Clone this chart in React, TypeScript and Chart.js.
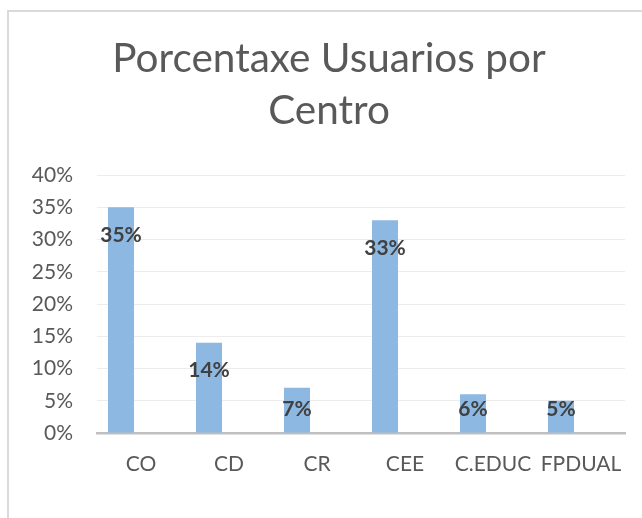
import React, { useEffect, useRef } from "react";
import { Chart, registerables } from "chart.js";

Chart.register(...registerables);

const categories = ["CO", "CD", "CR", "CEE", "C.EDUC", "FPDUAL"];
const usuarios = [0.35, 0.14, 0.07, 0.33, 0.06, 0.05];
const emptySeries = [null, null, null, null, null, null];
const titleLines = ["Porcentaxe Usuarios por", "Centro"];
const yMax = 0.4;
const yStep = 0.05;

const FONT = "Lato, 'Open Sans', sans-serif";

const frameAndTitle = {
  id: "frameAndTitle",
  beforeDraw(chart: any) {
    const ctx = chart.ctx;
    ctx.save();
    ctx.fillStyle = "#ffffff";
    ctx.fillRect(0, 0, chart.width, chart.height);
    ctx.fillStyle = "#dadada";
    ctx.fillRect(7, 10, 2, chart.height);
    ctx.fillRect(7, 10, chart.width, 2);
    ctx.restore();
  },
  afterDraw(chart: any) {
    const ctx = chart.ctx;
    ctx.save();
    ctx.fillStyle = "#595959";
    ctx.font = "400 40.5px " + FONT;
    ctx.textAlign = "center";
    ctx.textBaseline = "alphabetic";
    ctx.fillText(titleLines[0], 329, 72);
    ctx.fillText(titleLines[1], 329, 124);
    ctx.restore();
  },
};

const dataLabels = {
  id: "dataLabels",
  afterDatasetsDraw(chart: any) {
    const ctx = chart.ctx;
    const meta = chart.getDatasetMeta(0);
    const base = chart.scales.y.getPixelForValue(0);
    ctx.save();
    ctx.fillStyle = "#404040";
    ctx.font = "bold 21px " + FONT;
    ctx.textAlign = "center";
    ctx.textBaseline = "middle";
    meta.data.forEach((bar: any, i: number) => {
      const v = usuarios[i];
      const y = Math.min(bar.y + 28, base - 24);
      ctx.fillText(Math.round(v * 100) + "%", bar.x, y);
    });
    ctx.restore();
  },
};

export default function App() {
  const ref = useRef<HTMLCanvasElement>(null);
  useEffect(() => {
    if (!ref.current) return;
    const chart = new Chart(ref.current, {
      type: "bar",
      data: {
        labels: categories,
        datasets: [
          {
            label: "Usuarios",
            data: usuarios,
            backgroundColor: "#8cb8e2",
            borderWidth: 0,
            categoryPercentage: 0.909,
            barPercentage: 0.65,
          },
          {
            label: "",
            data: emptySeries as any,
            backgroundColor: "#8cb8e2",
            categoryPercentage: 0.909,
            barPercentage: 0.65,
          },
        ],
      },
      options: {
        animation: false,
        responsive: false,
        maintainAspectRatio: false,
        layout: { padding: { top: 175, right: 17, left: 0, bottom: 0 } },
        plugins: {
          legend: { display: false },
          title: { display: false },
          tooltip: { enabled: false },
        },
        scales: {
          x: {
            grid: { display: false, drawTicks: false },
            border: { display: true, color: "#bfbfbf", width: 2.5 },
            ticks: {
              color: "#595959",
              font: { family: FONT, size: 21 },
              padding: 19,
              maxRotation: 0,
              autoSkip: false,
            },
            afterFit(scale: any) {
              scale.height = 85;
            },
          },
          y: {
            min: 0,
            max: yMax,
            grid: { color: "#ececec", lineWidth: 1, drawTicks: false },
            border: { display: false },
            ticks: {
              stepSize: yStep,
              color: "#595959",
              font: { family: FONT, size: 21 },
              padding: 24,
              callback: (v: any) => Math.round(Number(v) * 100) + "%",
            },
            afterFit(scale: any) {
              scale.width = 97;
            },
          },
        },
      },
      plugins: [frameAndTitle, dataLabels],
    });
    return () => chart.destroy();
  }, []);
  return (
    <div style={{ position: "fixed", left: 0, top: 0, width: 642, height: 518 }}>
      <canvas ref={ref} width={642} height={518} style={{ display: "block" }} />
    </div>
  );
}
